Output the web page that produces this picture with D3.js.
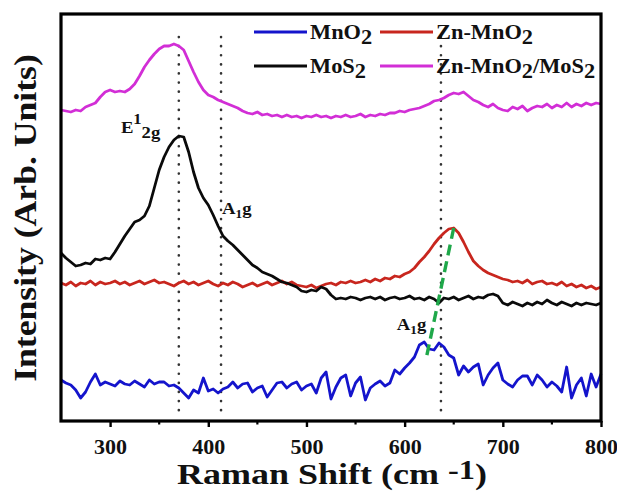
<!DOCTYPE html>
<html>
<head>
<meta charset="utf-8">
<script src="https://cdn.jsdelivr.net/npm/d3@7/dist/d3.min.js"></script>
<style>
  html, body { margin: 0; padding: 0; background: #fff; }
  svg { display: block; }
  text { font-family: "Liberation Serif", "Times New Roman", serif; font-weight: bold; fill: #111; }
</style>
</head>
<body>
<svg id="chart" width="617" height="499"></svg>
<script>
// Raman shift axis (cm^-1), sampled every 5 cm^-1
const shifts = d3.range(250, 801, 5);

// Stacked Raman spectra (arbitrary units, offsets included)
const mno2 = [41,38,36,31,23,29,39,47,36,39,37,35,40,37,36,40,37,34,41,37,39,39,35,36,33,28,23,31,28,43,30,32,28,32,34,39,33,37,38,29,33,35,24,31,38,39,33,37,39,31,35,37,28,43,49,22,34,43,46,25,38,44,21,33,37,40,35,38,51,47,53,58,64,76,79,72,71,78,74,66,63,46,55,49,54,57,36,46,53,58,41,37,34,41,45,45,36,46,41,34,39,35,29,54,23,36,43,25,47,34,47];
const znMno2 = [138,136,139,135,138,137,140,136,139,137,138,140,137,139,136,138,140,137,139,141,138,139,137,135,138,140,137,139,136,138,140,137,135,138,136,139,137,134,136,138,135,137,139,136,138,140,137,139,136,135,134,136,133,135,137,138,136,139,138,140,138,139,141,139,142,140,143,142,145,144,147,149,153,159,164,170,177,183,188,192,193,188,179,169,160,155,151,148,146,144,142,141,139,140,138,141,137,139,140,137,138,136,139,135,137,134,136,133,135,132,134];
const mos2 = [168,163,159,155,156,158,157,162,161,163,162,169,177,185,192,199,201,205,215,233,251,264,274,281,285,284,269,249,233,223,216,206,195,185,180,176,171,166,161,156,153,149,147,145,142,139,138,136,134,130,129,131,130,134,132,126,122,123,122,124,123,121,123,124,122,124,121,123,124,122,123,125,122,123,121,124,122,118,123,122,124,121,123,125,122,124,123,126,127,125,118,116,119,117,115,118,116,119,117,121,118,116,119,117,115,118,116,118,117,116,118];
const znMno2Mos2 = [311,310,309,311,310,314,316,318,324,329,331,329,330,329,332,337,345,354,361,367,372,375,375,377,375,371,360,349,339,331,326,324,321,319,317,315,313,310,308,307,309,306,307,305,306,304,306,304,305,303,305,304,306,304,305,303,305,304,306,304,305,307,304,306,305,307,306,308,308,310,309,311,312,313,315,317,320,321,323,326,328,327,329,325,321,319,316,314,317,313,311,310,314,312,315,310,313,315,314,317,313,316,314,318,314,317,315,318,316,318,317];

const seriesNames = ["MnO\u2082", "Zn-MnO\u2082", "MoS\u2082", "Zn-MnO\u2082/MoS\u2082"];
const tickValues = [300, 400, 500, 600, 700, 800];
const minorTicks = [350, 450, 550, 650, 750];

// Mode guides (cm^-1) and the peak-shift trend
const guideShifts = [370, 413, 637];
const shiftTrend = [[650, 193], [622.5, 65]];

const svg = d3.select("#chart");
const W = 617, H = 499;
const m = { left: 61, top: 14, right: 601, bottom: 421 };

svg.append("rect").attr("width", W).attr("height", H).attr("fill", "#fff");

const x = d3.scaleLinear().domain([250, 800]).range([m.left, m.right]);
const y = d3.scaleLinear().domain([0, 407]).range([m.bottom, m.top]);

const series = [
  { name: seriesNames[0], values: mno2, color: "#1414cc" },
  { name: seriesNames[1], values: znMno2, color: "#c8261e" },
  { name: seriesNames[2], values: mos2, color: "#0a0a0a" },
  { name: seriesNames[3], values: znMno2Mos2, color: "#d22ed6" }
];

const line = d3.line().x((d, i) => x(shifts[i])).y(d => y(d));

// Dotted guides for the Raman modes
svg.append("g").selectAll("line").data(guideShifts).join("line")
  .attr("x1", d => x(d)).attr("x2", d => x(d))
  .attr("y1", y(384)).attr("y2", y(6))
  .attr("stroke", "#333").attr("stroke-width", 2.6)
  .attr("stroke-linecap", "round").attr("stroke-dasharray", "0.1 9");

// Spectra
svg.append("g").selectAll("path").data(series).join("path")
  .attr("d", d => line(d.values))
  .attr("fill", "none").attr("stroke", d => d.color)
  .attr("stroke-width", 2.8).attr("stroke-linejoin", "round");

// Peak shift trend (green dashed)
svg.append("line")
  .attr("x1", x(shiftTrend[0][0])).attr("y1", y(shiftTrend[0][1]))
  .attr("x2", x(shiftTrend[1][0])).attr("y2", y(shiftTrend[1][1]))
  .attr("stroke", "#1fa84a").attr("stroke-width", 3.4)
  .attr("stroke-dasharray", "11 6");

// Frame
svg.append("rect")
  .attr("x", m.left).attr("y", m.top)
  .attr("width", m.right - m.left).attr("height", m.bottom - m.top)
  .attr("fill", "none").attr("stroke", "#000").attr("stroke-width", 3.2);

// Bottom axis
const xAxis = d3.axisBottom(x).tickValues(tickValues).tickSize(6).tickFormat(d3.format("d"));
const gx = svg.append("g").attr("transform", `translate(0,${m.bottom})`).call(xAxis);
gx.select(".domain").remove();
gx.selectAll(".tick line").attr("stroke", "#000").attr("stroke-width", 2.4);
gx.selectAll(".tick text").remove();
gx.selectAll(".tick").append("text")
  .attr("transform", "translate(0,33) scale(1.1,1)")
  .attr("text-anchor", "middle")
  .style("font-size", "20px")
  .text(d => d);
svg.append("g").selectAll("line").data(minorTicks).join("line")
  .attr("x1", d => x(d)).attr("x2", d => x(d))
  .attr("y1", m.bottom).attr("y2", m.bottom + 3.5)
  .attr("stroke", "#000").attr("stroke-width", 2.2);

// Axis titles
const xt = svg.append("text")
  .attr("transform", "translate(332,484) scale(1.2,1)")
  .attr("text-anchor", "middle")
  .style("font-size", "30px");
xt.append("tspan").text("Raman Shift (cm ");
xt.append("tspan").attr("dy", -5).style("font-size", "27px").text("-1");
xt.append("tspan").attr("dy", 5).text(")");

svg.append("text")
  .attr("transform", "translate(36,218) rotate(-90) scale(1.15,1)")
  .attr("text-anchor", "middle")
  .style("font-size", "31px")
  .text("Intensity (Arb. Units)");

// Legend
const legendItems = [
  { s: series[0], lx: 254, ly: 32, base: "MnO", tail: ["2"] },
  { s: series[1], lx: 380, ly: 32, base: "Zn-MnO", tail: ["2"] },
  { s: series[2], lx: 254, ly: 66, base: "MoS", tail: ["2"] },
  { s: series[3], lx: 380, ly: 66, base: "Zn-MnO", tail: ["2", "/MoS", "2"] }
];
const lg = svg.append("g");
legendItems.forEach(it => {
  lg.append("line")
    .attr("x1", it.lx).attr("x2", it.lx + 53)
    .attr("y1", it.ly).attr("y2", it.ly)
    .attr("stroke", it.s.color).attr("stroke-width", 2.8);
  const t = lg.append("text")
    .attr("transform", `translate(${it.lx + 56},${it.ly + 7}) scale(1.12,1)`)
    .style("font-size", "20px");
  t.append("tspan").text(it.base);
  let low = false;
  it.tail.forEach(p => {
    if (p === "2") {
      t.append("tspan").attr("dy", low ? 0 : 5).text(p);
      low = true;
    } else {
      t.append("tspan").attr("dy", -5).text(p);
      low = false;
    }
  });
});

// Peak labels
const e2g = svg.append("text")
  .attr("transform", `translate(${x(311)},${y(288)}) scale(1.1,1)`)
  .style("font-size", "17px");
e2g.append("tspan").text("E");
e2g.append("tspan").attr("dy", -9).style("font-size", "15px").text("1");
e2g.append("tspan").attr("dy", 14).text("2g");

function a1g(cx, cy) {
  const t = svg.append("text")
    .attr("transform", `translate(${x(cx)},${y(cy)}) scale(1.1,1)`)
    .style("font-size", "17px");
  t.append("tspan").text("A");
  t.append("tspan").attr("dy", 4).style("font-size", "12px").text("1");
  t.append("tspan").attr("dy", -4).text("g");
}
a1g(414, 207);
a1g(592, 91);
</script>
</body>
</html>
